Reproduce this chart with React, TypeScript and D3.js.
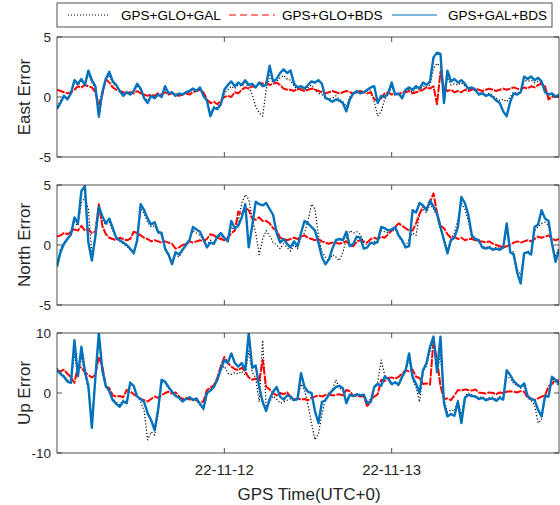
import { useRef, useEffect } from 'react';
import * as d3 from 'd3';

// samples every half hour from 2022-11-11 00:00 UTC
const STEP_HOURS = 0.5;
const START = Date.UTC(2022, 10, 11);
const END = Date.UTC(2022, 10, 14);
const xTickDates = [Date.UTC(2022, 10, 12), Date.UTC(2022, 10, 13)];

const seriesNames = ['GPS+GLO+GAL', 'GPS+GLO+BDS', 'GPS+GAL+BDS'];

const eastGloGal = [
  -0.8, -0.3, 0.0, -0.1, 0.3, 1.2, 1.0, 1.3, 1.0, 1.9,
  1.2, 0.7, -1.8, 0.3, 1.4, 1.8, 1.1, 0.9, 0.5, 0.2,
  0.4, 0.3, 0.5, 0.9, 0.6, 0.0, -0.3, 0.1, 0.0, 0.2,
  0.1, 0.7, 0.3, 0.3, 0.2, 0.3, 0.2, 0.3, 0.4, 0.6,
  0.5, 0.7, 0.2, -0.3, -1.4, -0.8, -0.9, -0.5, 0.3, 0.6,
  0.9, 0.7, 1.0, 0.9, 1.2, 0.8, 0.2, -0.8, -1.3, -1.6,
  0.6, 1.8, 1.2, 1.3, 1.6, 1.8, 1.5, 1.4, 0.9, 0.6,
  0.7, 0.5, 0.8, 1.0, 0.6, 0.3, 0.2, 0.0, -0.2, -0.1,
  0.1, -0.2, -0.4, -0.8, 0.0, 0.3, 0.4, 0.3, 0.4, 0.5,
  0.6, -0.4, -1.6, -1.2, -0.2, 0.2, 0.9, 0.2, 0.3, 0.0,
  0.5, 0.6, 0.4, 0.7, 0.6, 0.9, 0.8, 1.0, 2.4, 2.8,
  2.5, 0.0, 1.6, 1.0, 1.1, 1.0, 1.2, 0.9, 0.6, 0.7,
  0.5, 0.3, 0.4, 0.2, 0.3, 0.1, -0.1, -0.3, -0.2, -0.4,
  0.0, 0.4, 0.3, 0.5, 1.4, 1.3, 1.4, 1.2, 1.3, 1.1,
  0.6, -0.1, 0.1, 0.1, 0.2,
];
const eastGloBds = [
  0.6, 0.5, 0.4, 0.3, 0.4, 0.6, 0.9, 0.8, 1.0, 0.9,
  0.8, 0.4, -0.6, 0.2, 1.5, 1.2, 0.8, 0.6, 0.5, 0.4,
  0.3, 0.4, 0.3, 0.5, 0.3, 0.2, 0.1, 0.2, 0.1, 0.3,
  0.2, 0.4, 0.2, 0.3, 0.2, 0.1, 0.2, 0.3, 0.2, 0.4,
  0.5, 0.6, 0.4, -0.2, -0.5, -0.4, -0.6, -0.3, 0.0, 0.1,
  0.0, 0.4, 0.3, 0.6, 0.8, 0.7, 0.9, 0.8, 1.2, 1.1,
  1.2, 1.0, 1.1, 1.2, 1.0, 0.7, 0.6, 0.6, 0.5, 0.7,
  0.6, 0.5, 0.6, 0.7, 0.6, 0.5, 0.4, 0.3, 0.4, 0.5,
  0.4, 0.3, 0.4, 0.5, 0.4, 0.3, 0.4, 0.5, 0.4, 0.3,
  0.4, -0.2, -0.3, -0.1, 0.3, 0.4, 0.2, 0.3, 0.2, 0.4,
  0.4, 0.5, 0.3, 0.4, 0.5, 0.6, 0.8, 0.7, 0.9, -0.6,
  2.1, 0.8, 0.5, 0.6, 0.4, 0.5, 0.4, 0.6, 0.5, 0.6,
  0.7, 0.6, 0.5, 0.6, 0.7, 0.6, 0.5, 0.6, 0.7, 0.6,
  0.7, 0.8, 0.7, 0.6, 0.8, 0.7, 0.9, 0.8, 1.0, 1.1,
  0.9, -0.2, 0.0, 0.1, 0.0,
];
const eastGalBds = [
  -1.0, -0.5, 0.1, -0.2, 0.3, 1.4, 1.1, 1.5, 1.0, 2.2,
  1.4, 0.9, -1.6, 0.4, 1.5, 2.1, 1.3, 1.0, 0.5, 0.1,
  0.4, 0.2, 0.5, 1.1, 0.7, -0.1, -0.5, 0.1, -0.1, 0.2,
  0.0, 0.9, 0.3, 0.4, 0.1, 0.3, 0.2, 0.4, 0.5, 0.7,
  0.5, 0.8, 0.1, -0.3, -1.6, -0.9, -1.0, -0.6, 0.6, 1.0,
  1.3, 0.9, 1.2, 1.0, 1.4, 1.0, 1.1, 0.8, 1.2, 0.9,
  1.0, 2.6, 1.3, 1.5, 2.0, 2.3, 2.0, 2.2, 1.1, 0.8,
  0.9, 0.7, 1.0, 1.3, 1.2, 1.4, 1.1, -0.1, -0.2, -0.4,
  -0.2, -0.3, -0.5, -1.2, -0.2, 0.3, 0.5, 0.3, 0.4, 0.6,
  0.8, 0.9, -0.5, 0.1, 0.0, 0.3, 1.2, 0.2, 0.3, -0.1,
  0.6, 0.8, 0.6, 0.9, 0.7, 1.2, 1.0, 1.3, 3.3, 3.7,
  3.6, -0.5, 2.2, 1.3, 1.5, 1.2, 1.4, 1.1, 0.7, 0.8,
  0.6, 0.2, 0.3, 0.1, 0.2, 0.0, -0.3, -0.5, -1.2, -1.6,
  -0.4, 0.3, 0.2, 0.4, 1.7, 1.5, 1.7, 1.4, 1.6, 1.3,
  0.4, 0.2, 0.3, 0.0, 0.2,
];

const northGloGal = [
  -1.5, -0.3, 0.2, 0.6, 0.8, 1.9, 1.6, 3.5, 4.0, 3.0,
  -0.8, 0.6, 2.8, 2.1, 1.7, 1.9, 1.2, 0.5, 0.3, 0.1,
  -0.1, -0.4, -0.5, 0.3, 3.0, 2.6, 1.9, 1.5, 1.6, 1.0,
  0.8, -0.4, -0.9, -1.3, -0.8, -1.0, -0.5, 0.1, 0.5, 1.2,
  1.0, 0.8, 0.4, 0.0, 0.4, 0.2, 0.6, 0.8, 0.4, 0.5,
  1.5, 1.2, 2.0, 3.5, 4.2, 3.8, 2.2, 1.0, -0.8, 0.5,
  1.2, 0.8, 0.2, 0.0, -0.3, 0.1, -0.2, -0.5, 0.0, -0.3,
  0.6, 1.0, 2.0, 3.4, 3.0, 0.8, -0.6, -1.0, -1.3, -0.8,
  -1.0, -1.3, -0.6, 0.5, 1.2, 1.0, 1.1, 0.9, 0.2, 0.0,
  0.1, 0.3, 0.2, 1.2, 1.1, 1.0, 1.1, 1.3, 0.7, 0.3,
  -0.1, 0.5, 1.0, 0.8, 2.6, 3.0, 2.7, 3.4, 3.0, 2.4,
  1.3, 0.6, -0.4, 0.5, 1.0, 2.1, 3.5, 3.0, 2.0, 0.6,
  0.4, 0.3, -0.1, -0.2, -0.1, -0.3, -0.2, -0.3, -0.1, 1.2,
  -0.4, -0.6, -2.0, -2.5, -0.8, -0.5, -0.6, 1.2, 1.5, 1.8,
  1.9, 1.6, 0.2, -1.0, -0.2,
];
const northGloBds = [
  0.7, 0.8, 1.0, 0.9, 1.1, 1.3, 1.2, 1.6, 1.2, 1.3,
  1.0, 1.1, 3.4, 1.6, 0.9, 0.6, 0.5, 0.4, 0.6, 0.5,
  0.4, 0.5, 1.1, 1.0, 0.8, 0.6, 0.5, 0.3, 0.4, 0.3,
  0.2, 0.3, 0.2, 0.1, -0.3, -0.2, 0.0, 0.1, 0.3, 0.2,
  0.3, 0.4, 0.3, 0.5, 0.9, 0.8, 0.6, 0.5, 0.4, 0.6,
  1.0, 1.2, 2.8, 2.5, 3.1, 2.9, 2.2, 2.1, 2.3, 2.0,
  2.0, 1.8, 1.4, 1.2, 0.6, 0.5, 0.4, 0.5, 0.6, 0.5,
  0.7, 0.8, 0.6, 0.5, 0.4, 0.5, 0.3, 0.2, 0.1, 0.2,
  0.2, 0.1, 0.2, 0.3, 0.0, -0.1, 0.3, 0.4, 0.3, 0.2,
  0.5, 0.6, 0.5, 0.7, 0.6, 0.9, 1.2, 1.5, 1.8, 1.6,
  1.4, 1.2, 1.2, 1.8, 2.6, 3.2, 3.0, 3.6, 4.3, 2.7,
  1.6, 1.4, 0.9, 0.6, 0.7, 0.5, 0.6, 0.4, 0.5, 0.5,
  0.4, 0.3, 0.3, 0.2, 0.3, 0.1, 0.0, -0.1, -0.2, -0.1,
  0.0, 0.2, 0.3, 0.2, 0.3, 0.4, 0.3, 0.5, 0.7, 0.6,
  0.7, 0.8, 0.5, 0.4, 0.5,
];
const northGalBds = [
  -1.8, -0.6, 0.1, 0.5, 0.9, 2.3, 1.8, 4.5, 4.9, 0.2,
  -1.3, 0.7, 3.2, 2.4, 1.8, 2.2, 1.4, 0.6, 0.4, 0.2,
  0.0, -0.3, -0.7, 0.4, 3.4, 2.9, 2.2, 1.7, 1.9, 1.1,
  1.0, -0.3, -0.8, -1.6, -0.6, -0.8, -0.4, 0.0, 0.4, 1.5,
  1.3, 1.1, 0.5, -0.2, 0.2, 0.1, 0.7, 1.0, 0.6, 0.3,
  2.0, 1.4, 1.6, 2.3, 3.4, -0.2, 1.6, 3.6, 3.4, 3.3,
  3.5, 3.0, 2.5, 1.0, 0.2, 0.5, 0.1, -0.2, 0.3, -0.1,
  1.0, 2.0, 1.8, 1.5, 1.2, 0.2, -1.0, -1.6, -1.2, -0.3,
  0.4, 0.5, 0.4, 1.1, -0.1, 0.1, 0.7, 0.6, -0.3, -0.2,
  0.2, 0.1, 0.3, 1.5, 1.4, 1.2, 1.3, 1.5, 0.8, 0.4,
  -0.2, -0.1, 2.9, 2.7, 3.5, 3.3, 2.9, 3.7, 3.2, 2.6,
  1.5, 0.4, -0.7, 0.4, 0.6, 1.5, 4.0, 3.5, 2.5, 0.8,
  0.5, 0.4, -0.2, -0.3, -0.2, -0.4, -0.3, -0.4, -0.2, 1.8,
  -0.6, -0.8, -2.3, -3.2, -0.7, -0.6, -0.8, 1.5, 1.7, 2.9,
  2.2, 2.0, 0.1, -1.4, -0.4,
];

const upGloGal = [
  4.2, 3.4, 2.9, 2.2, 1.8, 6.5, 3.0, 6.0, 3.2, 0.5,
  -4.5, 2.8, 9.0, 3.5, 1.0, 0.2, -1.0, -1.5, -2.0, -1.2,
  -1.5, 1.9, 1.0, -0.4, -1.5, -3.0, -7.8, -6.5, -7.0, -3.5,
  1.8, 1.6, 0.8, 0.3, -0.4, -0.7, -1.2, -1.1, -0.8, -1.0,
  -1.2, -2.0, -2.8, -0.3, 0.5, 1.2, 2.6, 3.8, 4.5, 3.3,
  3.1, 3.4, 3.2, 3.6, 3.0, 7.0, 3.5, 2.5, -1.5, 8.8,
  -2.3, -1.5, -0.5, -1.0, -1.7, -1.5, -1.2, -1.0, -1.3, -1.1,
  1.5, 0.5, -2.0, -5.0, -7.8, -6.8, -3.5, -1.0, 0.0, 0.5,
  2.2, 0.8, 0.5, -1.2, -0.3, -0.6, -0.4, -0.5, -0.6, -1.5,
  -1.0, 0.8, 1.8, 5.5, 3.0, 2.2, 1.3, 1.6, 1.2, 2.5,
  3.5, 5.8, 2.2, 1.0, -1.5, 3.5, 4.5, 7.0, 9.4, 3.2,
  6.5, -1.0, -3.2, -2.8, -3.0, -1.2, -3.8, -0.5, 0.0, -0.3,
  -0.5, -0.8, -0.6, -1.0, -0.8, -0.7, -1.1, -0.6, -0.9, 2.8,
  2.4, 1.6, 1.2, 0.8, 1.3, -0.7, -1.3, -2.0, -5.0, -4.5,
  -0.8, -0.4, 2.4, 1.9, 1.2,
];
const upGloBds = [
  3.8, 3.6, 3.9, 3.2, 2.6, 1.7, 4.4, 4.2, 3.5, 3.0,
  2.6, 3.0, 6.0, 4.5, 1.1, 0.8, -0.4, -0.6, -0.5, -0.7,
  0.5, 0.3, -0.2, -0.6, -1.0, -1.2, -1.4, -1.0, -0.6, -0.8,
  -0.4, 0.0, 0.2, -0.1, 0.1, -0.6, -1.0, -0.8, -1.1, -0.9,
  -1.2, -1.7, -1.4, 0.5, 0.9, 1.3, 2.5, 4.5, 6.0, 5.0,
  4.4, 4.0, 3.8, 4.2, 3.6, 2.6, 2.2, 2.4, 2.0, 5.5,
  1.0, 0.6, 0.0, -0.4, 0.0, -0.2, 0.1, -0.6, -1.1, -0.9,
  -1.1, -1.0, -1.2, -0.8, -0.6, -0.4, -0.6, -0.3, -0.2, -0.4,
  -0.3, -0.2, -0.4, 0.5, 0.3, -0.5, -0.4, -0.6, -0.5, -2.3,
  -1.2, -0.6, -0.2, 2.2, 2.0, 2.5, 2.6, 2.4, 2.7, 3.2,
  3.8, 3.6, 3.9, 2.7, 2.5, 1.5, 1.6, 1.4, 8.8, 5.5,
  1.2, -1.0, -0.9, -1.2, -0.4, 0.5, 0.4, 0.6, 0.5, 0.4,
  0.6, 0.1, 0.0, -0.1, 0.1, 0.0, -0.2, 0.1, 0.0, 0.2,
  0.3, 0.2, 0.1, 0.3, 0.2, -0.8, -1.0, -1.2, -0.9, -0.6,
  -0.4, 1.1, 1.5, 2.2, 2.0,
];
const upGalBds = [
  3.8, 3.2, 2.7, 1.9, 1.7, 8.8, 2.8, 7.7, 3.6, 1.2,
  -5.8, 2.5, 10.0, 3.8, 1.2, 0.3, -1.2, -1.8, -2.3, -1.4,
  -1.7, 1.7, 1.2, -0.6, -1.0, -1.5, -3.4, -4.5, -6.2, -2.8,
  2.2, 1.9, 1.0, 0.2, -0.5, -0.8, -1.4, -1.0, -0.7, -1.2,
  -0.9, -1.8, -2.6, 0.0, 0.4, 1.0, 2.2, 4.0, 5.5, 5.0,
  6.6, 5.0, 4.4, 5.0, 3.8, 10.0, 4.2, 4.6, 1.0, -1.5,
  -3.0, -1.0, 0.2, 1.0, -0.6, -1.1, -0.4, -0.6, -1.2, -1.0,
  3.3, 1.0, 0.2, 0.0, -3.0, -5.0, -1.5, -1.2, -0.3, 0.4,
  1.0, 1.2, 0.8, -1.7, -0.3, -0.5, -0.2, -0.4, -0.3, -1.7,
  -1.5, 1.0, 1.5, 1.2, 2.7, 2.4, 1.5, 1.8, 1.4, 2.7,
  3.8, 6.6, 2.7, 1.5, 0.0, 3.8, 5.0, 7.7, 9.4, 3.5,
  9.4, -1.7, -3.9, -3.5, -3.8, -1.5, -5.0, -0.8, -0.3, -0.5,
  -0.6, -1.0, -0.8, -1.2, -1.0, -0.9, -1.3, -0.8, -1.1, 3.8,
  3.0, 2.0, 1.4, 1.0, 1.6, -0.5, -1.0, -1.2, -2.8, -3.9,
  -0.5, -0.6, 2.7, 2.2, 1.5,
];

const panelLabels = ['East Error', 'North Error', 'Up Error'];
const panelLimits = [5, 5, 10];
const panelSeries = [
  [eastGloGal, eastGloBds, eastGalBds],
  [northGloGal, northGloBds, northGalBds],
  [upGloGal, upGloBds, upGalBds],
];

const styles = [
  { color: '#000000', width: 1.2, dash: '1.2,2' },
  { color: '#FF0000', width: 2, dash: '8,1.2' },
  { color: '#0072BD', width: 2.4, dash: null },
];
const legendDash = ['1,2', '7,4', null];

export default function App() {
  const svgRef = useRef<SVGSVGElement>(null);

  useEffect(() => {
    if (!svgRef.current) return;
    const svg = d3.select(svgRef.current);
    svg.selectAll('*').remove();

    const font = 'Liberation Sans, Arial, sans-serif';
    const axisColor = '#262626';
    const left = 57;
    const right = 559;
    const panelTops = [37, 185, 333];
    const panelH = 120;
    const tickLen = 5;

    const x = d3.scaleUtc().domain([new Date(START), new Date(END)]).range([left, right]);
    const t = (i: number) => new Date(START + i * STEP_HOURS * 3600e3);

    panelSeries.forEach((series, p) => {
      const top = panelTops[p];
      const lim = panelLimits[p];
      const y = d3.scaleLinear().domain([-lim, lim]).range([top + panelH, top]);
      const g = svg.append('g');

      const clipId = `clip-${p}`;
      svg.append('clipPath').attr('id', clipId)
        .append('rect').attr('x', left).attr('y', top).attr('width', right - left).attr('height', panelH);

      const line = d3.line<number>()
        .x((_, i) => x(t(i)))
        .y((d) => y(d));

      const lines = g.append('g').attr('clip-path', `url(#${clipId})`);
      series.forEach((vals, s) => {
        const st = styles[s];
        const path = lines.append('path')
          .datum(vals)
          .attr('d', line)
          .attr('fill', 'none')
          .attr('stroke', st.color)
          .attr('stroke-width', st.width)
          .attr('stroke-linejoin', 'round');
        if (st.dash) path.attr('stroke-dasharray', st.dash);
      });

      // box
      g.append('rect')
        .attr('x', left).attr('y', top).attr('width', right - left).attr('height', panelH)
        .attr('fill', 'none').attr('stroke', axisColor).attr('stroke-width', 0.8);

      // y ticks
      const yTicks = [-lim, 0, lim];
      yTicks.forEach((v) => {
        const yy = y(v);
        g.append('line').attr('x1', left).attr('x2', left + tickLen).attr('y1', yy).attr('y2', yy)
          .attr('stroke', axisColor).attr('stroke-width', 0.8);
        g.append('line').attr('x1', right).attr('x2', right - tickLen).attr('y1', yy).attr('y2', yy)
          .attr('stroke', axisColor).attr('stroke-width', 0.8);
        g.append('text').attr('x', left - 6).attr('y', yy).attr('dy', '0.35em')
          .attr('text-anchor', 'end').attr('font-family', font).attr('font-size', 13.5)
          .attr('fill', axisColor).text(String(v));
      });

      // x ticks
      xTickDates.forEach((d) => {
        const xx = x(new Date(d));
        g.append('line').attr('x1', xx).attr('x2', xx).attr('y1', top + panelH).attr('y2', top + panelH - tickLen)
          .attr('stroke', axisColor).attr('stroke-width', 0.8);
        g.append('line').attr('x1', xx).attr('x2', xx).attr('y1', top).attr('y2', top + tickLen)
          .attr('stroke', axisColor).attr('stroke-width', 0.8);
      });

      g.append('text')
        .attr('transform', `translate(30,${top + panelH / 2}) rotate(-90)`)
        .attr('text-anchor', 'middle').attr('font-family', font).attr('font-size', 17)
        .attr('fill', axisColor).text(panelLabels[p]);
    });

    // x tick labels on bottom panel
    const fmt = d3.utcFormat('%y-%m-%d');
    xTickDates.forEach((d) => {
      svg.append('text').attr('x', x(new Date(d))).attr('y', 475)
        .attr('text-anchor', 'middle').attr('font-family', font).attr('font-size', 15)
        .attr('fill', axisColor).text(fmt(new Date(d)));
    });
    svg.append('text').attr('x', 309).attr('y', 500)
      .attr('text-anchor', 'middle').attr('font-family', font).attr('font-size', 17)
      .attr('fill', axisColor).text('GPS Time(UTC+0)');

    // legend
    const lg = svg.append('g');
    lg.append('rect').attr('x', 57).attr('y', 3).attr('width', 495).attr('height', 24)
      .attr('fill', '#fff').attr('stroke', axisColor).attr('stroke-width', 0.8);
    const legendLines = [[68, 108], [229, 275], [392, 437]];
    const legendText = [121, 282, 448];
    seriesNames.forEach((name, s) => {
      const ln = lg.append('line')
        .attr('x1', legendLines[s][0]).attr('x2', legendLines[s][1]).attr('y1', 15).attr('y2', 15)
        .attr('stroke', styles[s].color).attr('stroke-width', s === 0 ? 1 : 1.2);
      if (legendDash[s]) ln.attr('stroke-dasharray', legendDash[s]);
      lg.append('text').attr('x', legendText[s]).attr('y', 15).attr('dy', '0.35em')
        .attr('font-family', font).attr('font-size', 13.5).attr('fill', '#000').text(name);
    });
  }, []);

  return (
    <svg
      ref={svgRef}
      width={560}
      height={505}
      viewBox="0 0 560 505"
      style={{ position: 'absolute', left: 0, top: 0, background: '#fff' }}
    />
  );
}
